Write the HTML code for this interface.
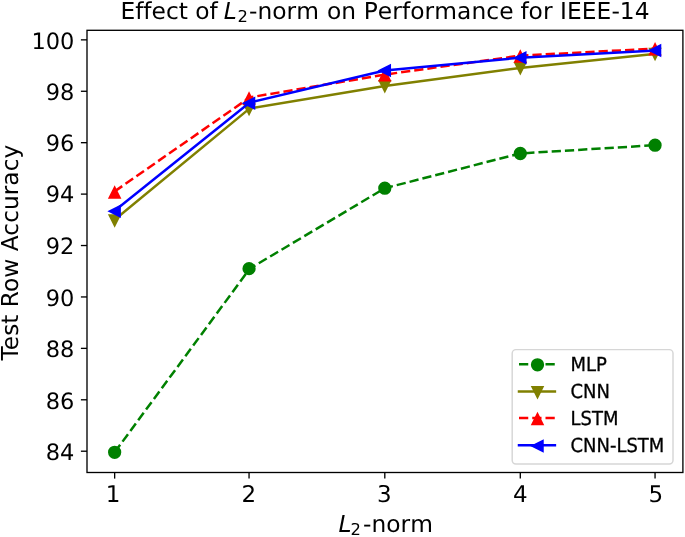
<!DOCTYPE html>
<html lang="en">
<head>
<meta charset="utf-8">
<title>Effect of L2-norm on Performance for IEEE-14</title>
<style>
html,body{margin:0;padding:0;background:#fff;}
body{width:685px;height:537px;overflow:hidden;}
svg{display:block;}
text{font-family:"DejaVu Sans","Liberation Sans",sans-serif;fill:#000;text-rendering:geometricPrecision;font-variant-ligatures:none;font-kerning:none;}
.it{font-family:"DejaVu Sans","Liberation Sans",sans-serif;font-style:oblique;}
</style>
</head>
<body>
<svg width="685" height="537" viewBox="0 0 685 537">
<rect x="0" y="0" width="685" height="537" fill="#ffffff"/>

<polyline points="114.65,452.30 249.75,268.65 384.85,188.20 519.95,153.50 655.05,145.20" fill="none" stroke="#008000" stroke-width="2.5" stroke-linejoin="round" stroke-linecap="butt" stroke-dasharray="9.25 4.00"/>
<circle cx="114.65" cy="452.30" r="5.80" fill="#008000" stroke="#008000" stroke-width="1.67"/>
<circle cx="249.05" cy="268.65" r="5.80" fill="#008000" stroke="#008000" stroke-width="1.67"/>
<circle cx="384.80" cy="188.20" r="5.80" fill="#008000" stroke="#008000" stroke-width="1.67"/>
<circle cx="520.30" cy="153.50" r="5.80" fill="#008000" stroke="#008000" stroke-width="1.67"/>
<circle cx="655.05" cy="145.20" r="5.80" fill="#008000" stroke="#008000" stroke-width="1.67"/>
<polyline points="114.65,219.80 249.75,108.40 384.85,86.00 519.95,68.00 655.05,53.80" fill="none" stroke="#808000" stroke-width="2.5" stroke-linejoin="round" stroke-linecap="square"/>
<polygon points="114.65,225.90 109.25,215.10 120.05,215.10" fill="#808000" stroke="#808000" stroke-width="1.67" stroke-linejoin="miter"/>
<polygon points="249.05,114.40 243.65,103.60 254.45,103.60" fill="#808000" stroke="#808000" stroke-width="1.67" stroke-linejoin="miter"/>
<polygon points="384.80,91.60 379.40,80.80 390.20,80.80" fill="#808000" stroke="#808000" stroke-width="1.67" stroke-linejoin="miter"/>
<polygon points="520.30,73.60 514.90,62.80 525.70,62.80" fill="#808000" stroke="#808000" stroke-width="1.67" stroke-linejoin="miter"/>
<polygon points="655.05,59.40 649.65,48.60 660.45,48.60" fill="#808000" stroke="#808000" stroke-width="1.67" stroke-linejoin="miter"/>
<polyline points="114.65,191.40 249.75,97.40 384.85,74.60 519.95,55.70 655.05,48.60" fill="none" stroke="#ff0000" stroke-width="2.5" stroke-linejoin="round" stroke-linecap="butt" stroke-dasharray="9.25 4.00"/>
<polygon points="114.65,187.20 109.25,198.00 120.05,198.00" fill="#ff0000" stroke="#ff0000" stroke-width="1.67" stroke-linejoin="miter"/>
<polygon points="249.05,93.20 243.65,104.00 254.45,104.00" fill="#ff0000" stroke="#ff0000" stroke-width="1.67" stroke-linejoin="miter"/>
<polygon points="384.80,69.90 379.40,80.70 390.20,80.70" fill="#ff0000" stroke="#ff0000" stroke-width="1.67" stroke-linejoin="miter"/>
<polygon points="520.30,51.20 514.90,62.00 525.70,62.00" fill="#ff0000" stroke="#ff0000" stroke-width="1.67" stroke-linejoin="miter"/>
<polygon points="655.05,43.80 649.65,54.60 660.45,54.60" fill="#ff0000" stroke="#ff0000" stroke-width="1.67" stroke-linejoin="miter"/>
<polyline points="114.65,210.70 249.75,102.60 384.85,70.50 519.95,57.70 655.05,50.50" fill="none" stroke="#0000ff" stroke-width="2.5" stroke-linejoin="round" stroke-linecap="square"/>
<polygon points="109.25,211.30 120.05,205.90 120.05,216.70" fill="#0000ff" stroke="#0000ff" stroke-width="1.67" stroke-linejoin="miter"/>
<polygon points="243.65,103.20 254.45,97.80 254.45,108.60" fill="#0000ff" stroke="#0000ff" stroke-width="1.67" stroke-linejoin="miter"/>
<polygon points="379.40,70.50 390.20,65.10 390.20,75.90" fill="#0000ff" stroke="#0000ff" stroke-width="1.67" stroke-linejoin="miter"/>
<polygon points="514.90,57.70 525.70,52.30 525.70,63.10" fill="#0000ff" stroke="#0000ff" stroke-width="1.67" stroke-linejoin="miter"/>
<polygon points="649.65,50.50 660.45,45.10 660.45,55.90" fill="#0000ff" stroke="#0000ff" stroke-width="1.67" stroke-linejoin="miter"/>
<rect x="87.0" y="30.3" width="595.9" height="442.20" fill="none" stroke="#000" stroke-width="1.33" stroke-linejoin="miter"/>
<line x1="114.65" y1="472.5" x2="114.65" y2="478.60" stroke="#000" stroke-width="1.33"/>
<text x="112.95" y="501.5" font-size="23" text-anchor="middle">1</text>
<line x1="249.05" y1="472.5" x2="249.05" y2="478.60" stroke="#000" stroke-width="1.33"/>
<text x="248.75" y="501.5" font-size="23" text-anchor="middle">2</text>
<line x1="384.80" y1="472.5" x2="384.80" y2="478.60" stroke="#000" stroke-width="1.33"/>
<text x="384.30" y="501.5" font-size="23" text-anchor="middle">3</text>
<line x1="520.30" y1="472.5" x2="520.30" y2="478.60" stroke="#000" stroke-width="1.33"/>
<text x="520.30" y="501.5" font-size="23" text-anchor="middle">4</text>
<line x1="655.05" y1="472.5" x2="655.05" y2="478.60" stroke="#000" stroke-width="1.33"/>
<text x="655.75" y="501.5" font-size="23" text-anchor="middle">5</text>
<line x1="87.0" y1="451.21" x2="80.90" y2="451.21" stroke="#000" stroke-width="1.33"/>
<text x="74.4" y="460.31" font-size="22.5" text-anchor="end">84</text>
<line x1="87.0" y1="399.79" x2="80.90" y2="399.79" stroke="#000" stroke-width="1.33"/>
<text x="74.4" y="408.89" font-size="22.5" text-anchor="end">86</text>
<line x1="87.0" y1="348.37" x2="80.90" y2="348.37" stroke="#000" stroke-width="1.33"/>
<text x="74.4" y="357.47" font-size="22.5" text-anchor="end">88</text>
<line x1="87.0" y1="296.95" x2="80.90" y2="296.95" stroke="#000" stroke-width="1.33"/>
<text x="74.4" y="305.55" font-size="22.5" text-anchor="end">90</text>
<line x1="87.0" y1="245.53" x2="80.90" y2="245.53" stroke="#000" stroke-width="1.33"/>
<text x="74.4" y="253.73" font-size="22.5" text-anchor="end">92</text>
<line x1="87.0" y1="194.11" x2="80.90" y2="194.11" stroke="#000" stroke-width="1.33"/>
<text x="74.4" y="202.41" font-size="22.5" text-anchor="end">94</text>
<line x1="87.0" y1="142.69" x2="80.90" y2="142.69" stroke="#000" stroke-width="1.33"/>
<text x="74.4" y="151.29" font-size="22.5" text-anchor="end">96</text>
<line x1="87.0" y1="91.27" x2="80.90" y2="91.27" stroke="#000" stroke-width="1.33"/>
<text x="74.4" y="100.37" font-size="22.5" text-anchor="end">98</text>
<line x1="87.0" y1="39.85" x2="80.90" y2="39.85" stroke="#000" stroke-width="1.33"/>
<text x="74.4" y="48.95" font-size="22.5" text-anchor="end">100</text>
<text y="19.0" font-size="23.33"><tspan x="120.4">Effect </tspan><tspan x="195.3">of </tspan><tspan class="it" x="223.8">L</tspan><tspan x="237.6" dy="3.0" font-size="16.33">2</tspan><tspan x="249.1" dy="-3.0">-norm </tspan><tspan x="327.0">on </tspan><tspan x="363.7" letter-spacing="0.08">Performance </tspan><tspan x="520.4">for </tspan><tspan x="560.1" letter-spacing="0.05">IEEE-14</tspan></text>
<text y="531.8" font-size="23.33"><tspan class="it" x="338.5">L</tspan><tspan x="350.5" dy="3.2" font-size="16.33">2</tspan><tspan x="363.1" dy="-3.2">-norm</tspan></text>
<text transform="translate(17.9,252.6) rotate(-90)" font-size="23.33" text-anchor="middle" style="font-kerning:normal">Test Row Accuracy</text>
<rect x="512.2" y="349.6" width="160.80" height="114.40" rx="3.67" ry="3.67" fill="#ffffff" fill-opacity="0.8" stroke="#d6d6d6" stroke-width="1.45"/>
<line x1="519.00" y1="364.2" x2="554.90" y2="364.2" stroke="#008000" stroke-width="2.5" stroke-linecap="butt" stroke-dasharray="9.25 4.00"/>
<circle cx="537.50" cy="364.80" r="5.80" fill="#008000" stroke="#008000" stroke-width="1.67"/>
<text transform="translate(570.5,371.10) scale(0.98,1.055)" font-size="18.33" stroke="#000" stroke-width="0.3" style="font-kerning:normal">MLP</text>
<line x1="519.00" y1="391.5" x2="554.90" y2="391.5" stroke="#808000" stroke-width="2.5" stroke-linecap="square"/>
<polygon points="537.50,397.70 532.10,386.90 542.90,386.90" fill="#808000" stroke="#808000" stroke-width="1.67" stroke-linejoin="miter"/>
<text transform="translate(570.5,397.90) scale(0.98,1.055)" font-size="18.33" stroke="#000" stroke-width="0.3" style="font-kerning:normal">CNN</text>
<line x1="519.00" y1="418.0" x2="554.90" y2="418.0" stroke="#ff0000" stroke-width="2.5" stroke-linecap="butt" stroke-dasharray="9.25 4.00"/>
<polygon points="537.50,413.50 532.10,424.30 542.90,424.30" fill="#ff0000" stroke="#ff0000" stroke-width="1.67" stroke-linejoin="miter"/>
<text transform="translate(570.5,425.00) scale(0.98,1.055)" font-size="18.33" stroke="#000" stroke-width="0.3" style="font-kerning:normal">LSTM</text>
<line x1="519.00" y1="445.2" x2="554.90" y2="445.2" stroke="#0000ff" stroke-width="2.5" stroke-linecap="square"/>
<polygon points="532.10,446.00 542.90,440.60 542.90,451.40" fill="#0000ff" stroke="#0000ff" stroke-width="1.67" stroke-linejoin="miter"/>
<text transform="translate(570.5,451.80) scale(0.98,1.055)" font-size="18.33" stroke="#000" stroke-width="0.3" style="font-kerning:normal">CNN-LSTM</text>
</svg>
</body>
</html>
